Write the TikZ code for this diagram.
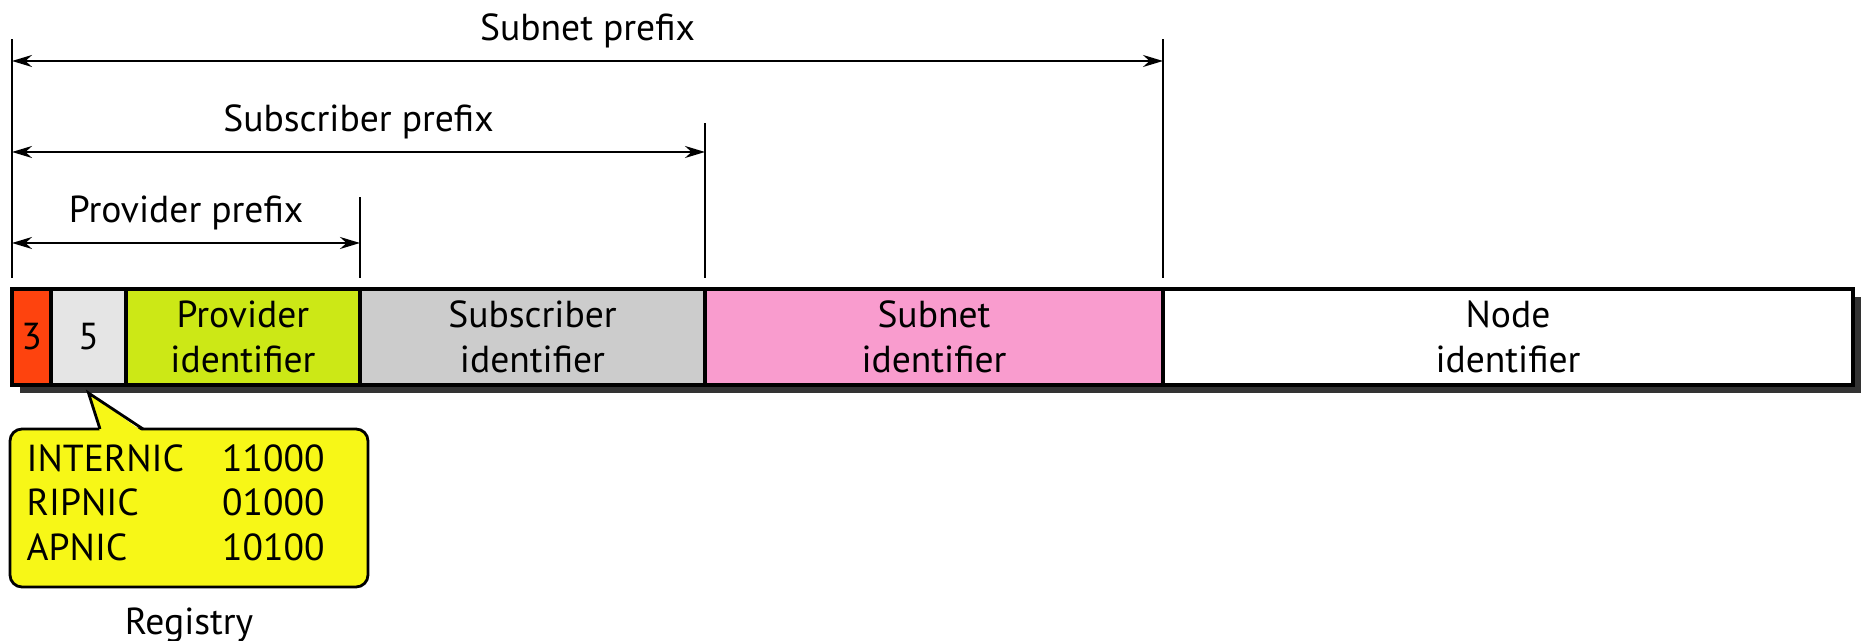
\documentclass[tikz,border=0pt]{standalone}
\usepackage{fontspec}
\setmainfont{PT Sans}
\usetikzlibrary{arrows.meta,positioning,backgrounds}

\definecolor{redfield}{RGB}{254,67,14}
\definecolor{lightfield}{RGB}{229,229,229}
\definecolor{provfield}{RGB}{204,232,22}
\definecolor{subsfield}{RGB}{204,204,204}
\definecolor{subnfield}{RGB}{249,156,206}
\definecolor{regyellow}{RGB}{247,247,23}
\definecolor{shadowcol}{RGB}{51,51,51}

\tikzset{
  field/.style={draw, line width=1pt, minimum height=0.96cm, inner sep=0pt, outer sep=0pt, align=center},
  tick/.style={line width=0.65pt},
  dimline/.style={{Stealth[length=2mm,width=1.2mm]}-{Stealth[length=2mm,width=1.2mm]}, line width=0.55pt},
  dimlabel/.style={midway, anchor=base, yshift=0.2cm},
  regbox/.style={draw, fill=regyellow, line width=0.8pt, rounded corners=0.12cm, minimum width=3.58cm, minimum height=1.58cm, outer sep=0pt},
}

\begin{document}
\begin{tikzpicture}[x=1cm,y=1cm, font=\fontsize{10.7}{12.8}\selectfont]
\useasboundingbox (0,0) rectangle (18.61,6.41);

% the address fields
\node[field, fill=redfield, minimum width=0.39cm, anchor=south west] (f3) at (0.12,2.56) {3};
\node[field, fill=lightfield, minimum width=0.75cm, right=0pt of f3] (f5) {5};
\node[field, fill=provfield, minimum width=2.34cm, right=0pt of f5] (prov) {Provider\\identifier};
\node[field, fill=subsfield, minimum width=3.45cm, right=0pt of prov] (subs) {Subscriber\\identifier};
\node[field, fill=subnfield, minimum width=4.58cm, right=0pt of subs] (subn) {Subnet\\identifier};
\node[field, fill=white, minimum width=6.90cm, right=0pt of subn] (nodeid) {Node\\identifier};

% shadow under the fields
\begin{scope}[on background layer]
  \fill[shadowcol] ([shift={(0.08,-0.08)}]f3.north west) rectangle ([shift={(0.08,-0.08)}]nodeid.south east);
\end{scope}

% limits of the prefixes
\foreach \f/\top in {f3.north west/6.02, prov.north east/4.44, subs.north east/5.18, subn.north east/6.02}{
    \draw[tick] ([yshift=0.11cm]\f) -- (\f |- 0,\top);
}

\draw[dimline] (f3.north west |- 0,5.80) -- node[dimlabel] (subnlbl) {Subnet prefix} (subn.north east |- 0,5.80);
\draw[dimline] (f3.north west |- 0,4.89) -- node[dimlabel] (subslbl) {Subscriber prefix} (subs.north east |- 0,4.89);
\draw[dimline] (f3.north west |- 0,3.98) -- node[dimlabel] (provlbl) {Provider prefix} (prov.north east |- 0,3.98);

% the registry callout
\node[regbox] (reg) at (1.89,1.33) {};
\coordinate (tip) at ([yshift=-0.08cm]f5.south);
\fill[regyellow] ([xshift=-0.89cm,yshift=-0.03cm]reg.north) -- (tip) -- ([xshift=-0.46cm,yshift=-0.03cm]reg.north) -- cycle;
\draw[line width=0.8pt] ([xshift=-0.89cm]reg.north) -- (tip) -- ([xshift=-0.46cm]reg.north);

\node[anchor=west, inner sep=0pt] (regtab) at (0.26,1.34) {%
  \begin{tabular}{@{}l@{\hspace{0.38cm}}r@{}}
    INTERNIC & 11000\\
    RIPNIC   & 01000\\
    APNIC    & 10100
  \end{tabular}};
\node[below=0.08cm of reg] (regname) {Registry};

\end{tikzpicture}
\end{document}
